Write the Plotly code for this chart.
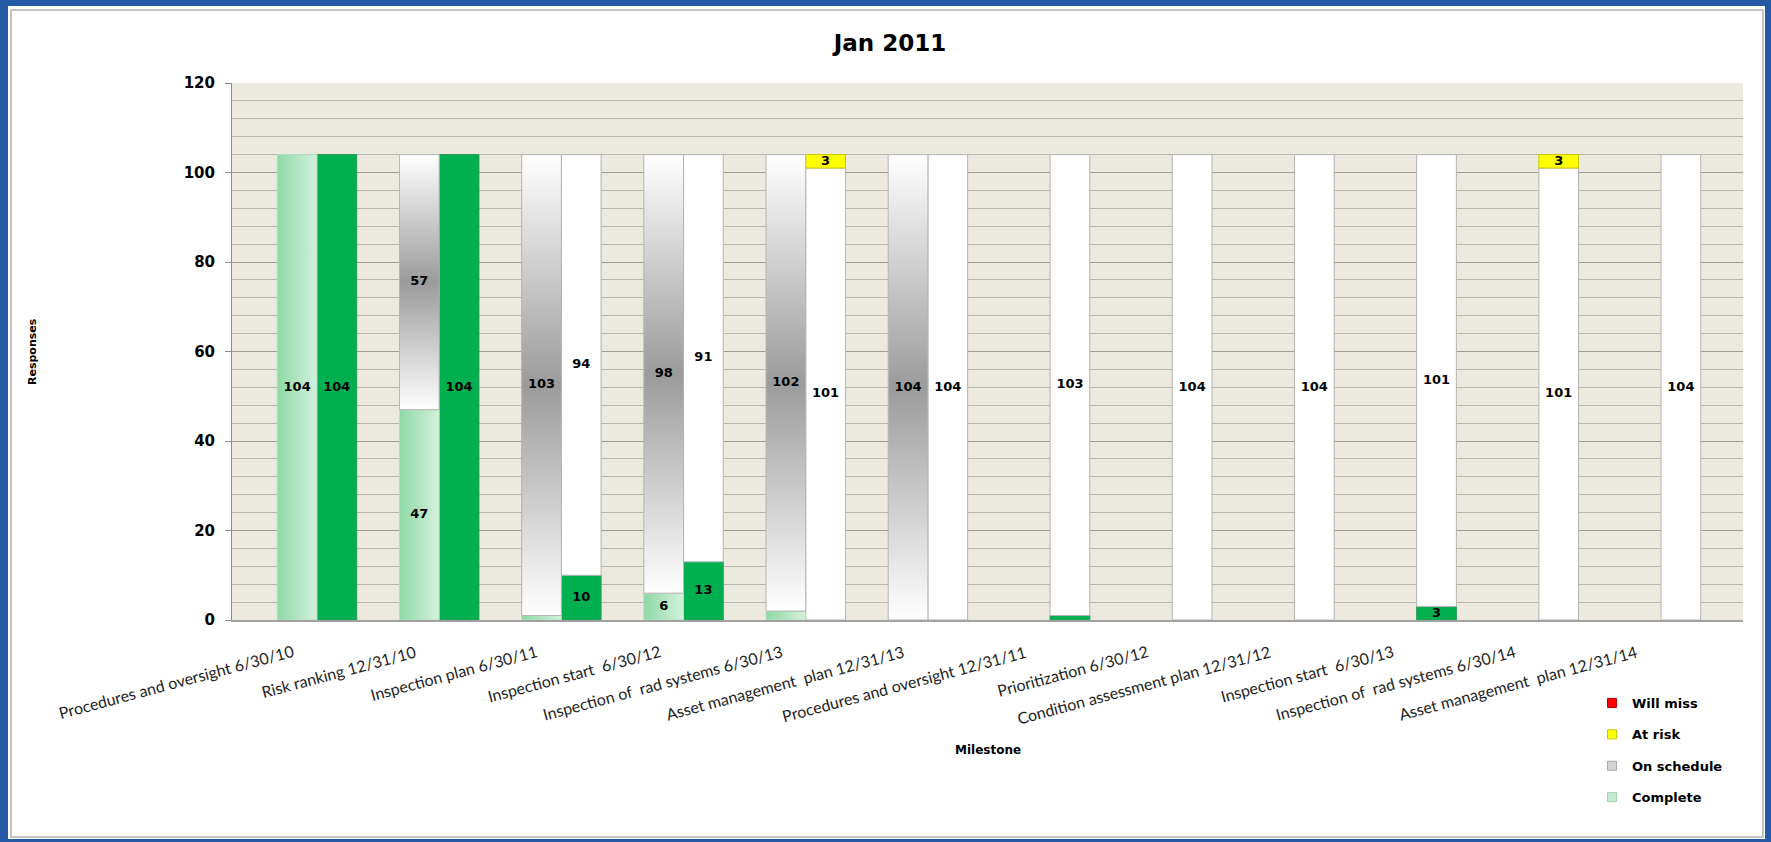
import plotly.graph_objects as go

# ---------------- data ----------------
categories = [
    "Procedures and oversight 6/30/10",
    "Risk ranking 12/31/10",
    "Inspection plan 6/30/11",
    "Inspection start  6/30/12",
    "Inspection of  rad systems 6/30/13",
    "Asset management  plan 12/31/13",
    "Procedures and oversight 12/31/11",
    "Prioritization 6/30/12",
    "Condition assessment plan 12/31/12",
    "Inspection start  6/30/13",
    "Inspection of  rad systems 6/30/14",
    "Asset management  plan 12/31/14",
]
# left (earlier report) bars
left_complete    = [104, 47, 1, 6, 2, 0, 0, 0, 0, 0, 0, 0]
left_on_schedule = [0, 57, 103, 98, 102, 104, 0, 0, 0, 0, 0, 0]
# right (Jan 2011) bars
right_complete    = [104, 104, 10, 13, 0, 0, 1, 0, 0, 3, 0, 0]
right_on_schedule = [0, 0, 94, 91, 101, 104, 103, 104, 104, 101, 101, 104]
right_at_risk     = [0, 0, 0, 0, 3, 0, 0, 0, 0, 0, 3, 0]
right_will_miss   = [0, 0, 0, 0, 0, 0, 0, 0, 0, 0, 0, 0]

legend_names  = ["Will miss", "At risk", "On schedule", "Complete"]
legend_colors = ["#ff0000", "#ffff00", "#d4d4d4", "#c4ead0"]
legend_lines  = ["#c00000", "#c8c800", "#a8a8a8", "#9fd3b0"]

title_text = "Jan 2011"
y_title = "Responses"
x_title = "Milestone"

# ---------------- layout geometry ----------------
W, H = 1771, 842
L, R, T, B = 232, 28, 83, 222
PW, PH = W - L - R, H - T - B
def xp(px):
    return (px - L) / PW
def yp(py):
    return (H - B - py) / PH

BW = 0.325          # bar width in category units
idx = list(range(len(categories)))

fig = go.Figure()

# legend-only entries
for name, col, lc in zip(legend_names, legend_colors, legend_lines):
    fig.add_trace(go.Scatter(
        x=[None], y=[None], mode="markers", name="<b>%s</b>" % name,
        legendgroup=name,
        marker=dict(symbol="square", size=9, color=col, line=dict(color=lc, width=1)),
    ))

# left bars drawn as gradient-filled shapes
def left_segment(i, base, val, kind):
    x0, x1 = i - BW, i
    y0, y1 = base, base + val
    if kind == "complete":
        grad = dict(type="horizontal", start=x0, stop=x1,
                    colorscale=[[0, "#8ed9a6"], [1, "#d3f1dc"]])
        lc = "#b9dcc4"
    else:
        grad = dict(type="vertical", start=y0, stop=y1,
                    colorscale=[[0, "#ffffff"], [0.5, "#9b9b9b"], [1, "#ffffff"]])
        lc = "#b4b4b4"
    fig.add_trace(go.Scatter(
        x=[x0, x1, x1, x0, x0], y=[y0, y0, y1, y1, y0],
        mode="lines", fill="toself", fillgradient=grad,
        line=dict(color=lc, width=1), showlegend=False, hoverinfo="skip",
    ))

for i in idx:
    if left_complete[i] > 0:
        left_segment(i, 0, left_complete[i], "complete")
    if left_on_schedule[i] > 0:
        left_segment(i, left_complete[i], left_on_schedule[i], "onschedule")

# right bars (stacked via base)
def nz(v):
    return [a if a > 0 else None for a in v]

base = [0] * len(idx)
for vals, col, lc in [
    (right_complete, "#00b050", "#2a9a55"),
    (right_on_schedule, "#ffffff", "#b4b4b4"),
    (right_at_risk, "#ffff00", "#c8c800"),
    (right_will_miss, "#ff0000", "#c00000"),
]:
    fig.add_trace(go.Bar(
        x=idx, y=nz(vals), base=base, offset=0, width=BW,
        marker=dict(color=col, line=dict(color=lc, width=1)),
        showlegend=False, hoverinfo="skip",
    ))
    base = [b + v for b, v in zip(base, vals)]

# data labels
lx, ly, lt = [], [], []
for i in idx:
    b = 0
    for v in (left_complete[i], left_on_schedule[i]):
        if v >= 3:
            lx.append(i - BW / 2); ly.append(b + v / 2); lt.append(str(v))
        b += v
    b = 0
    for v in (right_complete[i], right_on_schedule[i], right_at_risk[i], right_will_miss[i]):
        if v >= 3:
            lx.append(i + BW / 2); ly.append(b + v / 2); lt.append(str(v))
        b += v
fig.add_trace(go.Scatter(
    x=lx, y=ly, text=lt, mode="text", showlegend=False, hoverinfo="skip",
    textfont=dict(family="DejaVu Sans", size=13, color="#000000", weight="bold"),
))

# category labels (rotated, ending just left of each category centre)
annotations = []
for i, name in zip(idx, categories):
    annotations.append(dict(
        text=name, xref="x", yref="paper", x=i, y=yp(639), xshift=-19,
        xanchor="right", yanchor="top", textangle=-15, showarrow=False,
        font=dict(family="Lato", size=16, color="#1e1e1e"),
    ))
annotations += [
    dict(text="<b>%s</b>" % y_title, xref="paper", yref="paper", x=xp(32), y=yp(352),
         xanchor="center", yanchor="middle",
         textangle=-90, showarrow=False, font=dict(family="DejaVu Sans", size=11, color="#000000")),
    dict(text="<b>%s</b>" % x_title, xref="paper", yref="paper", x=xp(988), y=yp(750),
         xanchor="center", yanchor="middle",
         showarrow=False, font=dict(family="DejaVu Sans", size=12, color="#000000")),
]

# frame: blue border + grey inner line
blue = "#2459a6"
shapes = [
    dict(type="rect", xref="paper", yref="paper", x0=xp(0), x1=xp(8), y0=yp(H), y1=yp(0),
         fillcolor=blue, line=dict(width=0), layer="below"),
    dict(type="rect", xref="paper", yref="paper", x0=xp(0), x1=xp(W), y0=yp(6), y1=yp(0),
         fillcolor=blue, line=dict(width=0), layer="below"),
    dict(type="rect", xref="paper", yref="paper", x0=xp(1765), x1=xp(W), y0=yp(H), y1=yp(0),
         fillcolor=blue, line=dict(width=0), layer="below"),
    dict(type="rect", xref="paper", yref="paper", x0=xp(0), x1=xp(W), y0=yp(H), y1=yp(839),
         fillcolor=blue, line=dict(width=0), layer="below"),
    dict(type="rect", xref="paper", yref="paper", x0=xp(11), x1=xp(1763), y0=yp(837), y1=yp(10),
         fillcolor="rgba(0,0,0,0)", line=dict(color="#c4c4c4", width=2), layer="below"),
]

fig.update_layout(
    width=W, height=H, autosize=False,
    margin=dict(l=L, r=R, t=T, b=B, pad=0),
    paper_bgcolor="#ffffff", plot_bgcolor="#ece9de",
    barmode="overlay",
    title=dict(text="<b>%s</b>" % title_text, x=890 / W, y=1 - 43 / H, xref="container", yref="container",
               xanchor="center", yanchor="middle",
               font=dict(family="DejaVu Sans", size=23, color="#000000")),
    xaxis=dict(range=[-0.6957, 11.671], showticklabels=False,
               showgrid=False, zeroline=False, showline=True, linecolor="#a2a2a2", linewidth=2,
               ticks="", fixedrange=True),
    yaxis=dict(range=[0, 120], tickmode="array", tickvals=list(range(0, 121, 20)),
               showgrid=True, gridcolor="#9e9c93", gridwidth=1,
               minor=dict(tickmode="linear", tick0=0, dtick=4, showgrid=True,
                          gridcolor="#b9b7ad", gridwidth=1, ticks=""),
               ticks="outside", ticklen=6, tickcolor="#8a8a8a", ticklabelstandoff=7,
               showline=True, linecolor="#8a8a8a", linewidth=1, zeroline=False,
               tickfont=dict(family="DejaVu Sans", size=15, color="#000000", weight="bold"),
               fixedrange=True),
    legend=dict(x=xp(1592), y=yp(688), xanchor="left", yanchor="top",
                bgcolor="rgba(0,0,0,0)", traceorder="grouped", tracegroupgap=11.5,
                font=dict(family="DejaVu Sans", size=13, color="#000000")),
    annotations=annotations,
    shapes=shapes,
    hovermode=False,
)

fig.write_html(
    "out.html",
    config={"displayModeBar": False},
    post_script="document.body.style.margin='0';document.body.style.overflow='hidden';",
)
